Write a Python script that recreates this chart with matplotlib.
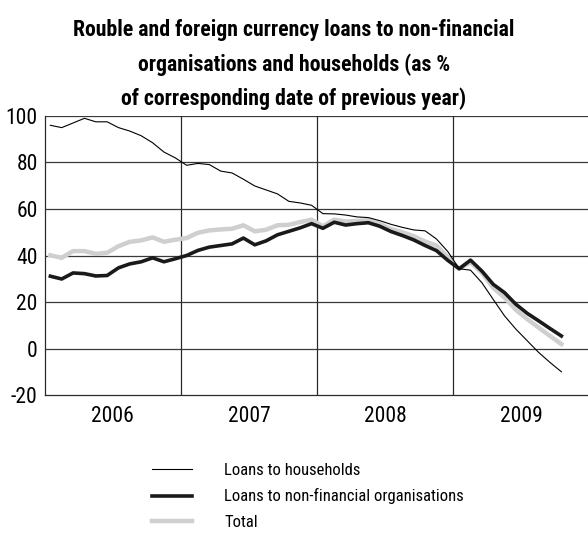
import numpy as np
import matplotlib
matplotlib.use("Agg")
import matplotlib.pyplot as plt

plt.rcParams['font.family'] = ['Liberation Sans Narrow', 'Roboto Condensed', 'DejaVu Sans']
plt.rcParams['font.stretch'] = 'condensed'

# monthly observations, Jan 2006 - Oct 2009
households = [96, 95, 97, 99, 97.5, 97.5, 95, 93.5, 91.5, 88.5, 84.5, 82,
              78.8, 79.6, 79.1, 76.3, 75.5, 72.8, 69.9, 68.2, 66.5, 63.3, 62.6, 61.6,
              58.0, 57.9, 57.4, 56.6, 56.3, 55.0, 53.4, 52.1, 51.0, 50.6, 47.1, 41.7,
              34.3, 33.7, 28.3, 21.1, 14.0, 8.3, 3.3, -1.7, -6.0, -10.0]
non_financial = [31.1, 29.9, 32.5, 32.2, 31.2, 31.4, 34.7, 36.4, 37.3, 39.0, 37.3, 38.6,
                 40.0, 42.2, 43.6, 44.3, 45.0, 47.5, 44.6, 46.3, 48.9, 50.4, 51.9, 53.7,
                 51.7, 54.3, 53.1, 53.7, 54.1, 52.6, 50.3, 48.6, 46.7, 44.3, 42.1, 37.9,
                 34.3, 38.0, 33.3, 27.6, 24.0, 19.0, 15.1, 11.9, 8.6, 5.4]
total = [40.1, 39.0, 41.9, 41.9, 40.7, 41.2, 44.0, 45.9, 46.5, 47.8, 45.9, 46.8,
         47.5, 49.8, 50.8, 51.2, 51.5, 53.0, 50.4, 51.1, 53.0, 53.2, 54.4, 55.4,
         52.6, 55.4, 54.6, 54.9, 55.1, 53.6, 51.4, 50.0, 48.3, 46.0, 44.3, 39.3,
         34.3, 37.1, 32.6, 26.1, 21.9, 16.6, 12.6, 9.0, 5.4, 1.9]
years = [2006, 2007, 2008, 2009]
yticks = [-20, 0, 20, 40, 60, 80, 100]
title_lines = ["Rouble and foreign currency loans to non-financial",
               "organisations and households (as %",
               "of corresponding date of previous year)"]

x = 2006 + (np.arange(len(households)) + 0.5) / 12

fig = plt.figure(figsize=(5.88, 5.37), dpi=100)
ax = fig.add_axes([0.076, 0.2644, 0.927, 0.5196])

l3, = ax.plot(x, total, color='#cfcfcf', lw=3.2, solid_joinstyle='round', zorder=3)
l2, = ax.plot(x, non_financial, color='#1a1a1a', lw=2.6, solid_joinstyle='round', zorder=4)
l1, = ax.plot(x, households, color='black', lw=0.8, zorder=5)

ax.set_xlim(2006, 2010)
ax.set_ylim(-20, 100)
ax.set_yticks(yticks)
ax.set_yticklabels([str(v) for v in yticks])
ax.set_xticks([y + 0.5 for y in years])
ax.set_xticklabels([str(y) for y in years])
ax.tick_params(axis='both', length=0, labelsize=15.5)
ax.tick_params(axis='y', pad=5)
ax.tick_params(axis='x', pad=8)

for v in yticks[1:]:
    ax.axhline(v, color='#3a3a3a', lw=0.9, zorder=1)
for y in years[1:]:
    ax.axvline(y, color='#2a2a2a', lw=0.9, zorder=1)

for s in ['top', 'right']:
    ax.spines[s].set_visible(False)
for s in ['left', 'bottom']:
    ax.spines[s].set_color('#2a2a2a')
    ax.spines[s].set_linewidth(0.9)

# title, one text per line at the reference baselines (px from top)
for line, base in zip(title_lines, [36, 71, 105]):
    fig.text(0.5, 1 - base / 537, line, ha='center', va='baseline',
             fontsize=15.7, fontweight='bold')

fig.legend([l1, l2, l3],
           ["Loans to households", "Loans to non-financial organisations", "Total"],
           loc='upper left', bbox_to_anchor=(0.2585, 1 - 463 / 537), frameon=False,
           borderpad=0, borderaxespad=0,
           fontsize=12, handlelength=2.4, handletextpad=1.95, labelspacing=0.62)

fig.savefig("out.png", dpi=100)
